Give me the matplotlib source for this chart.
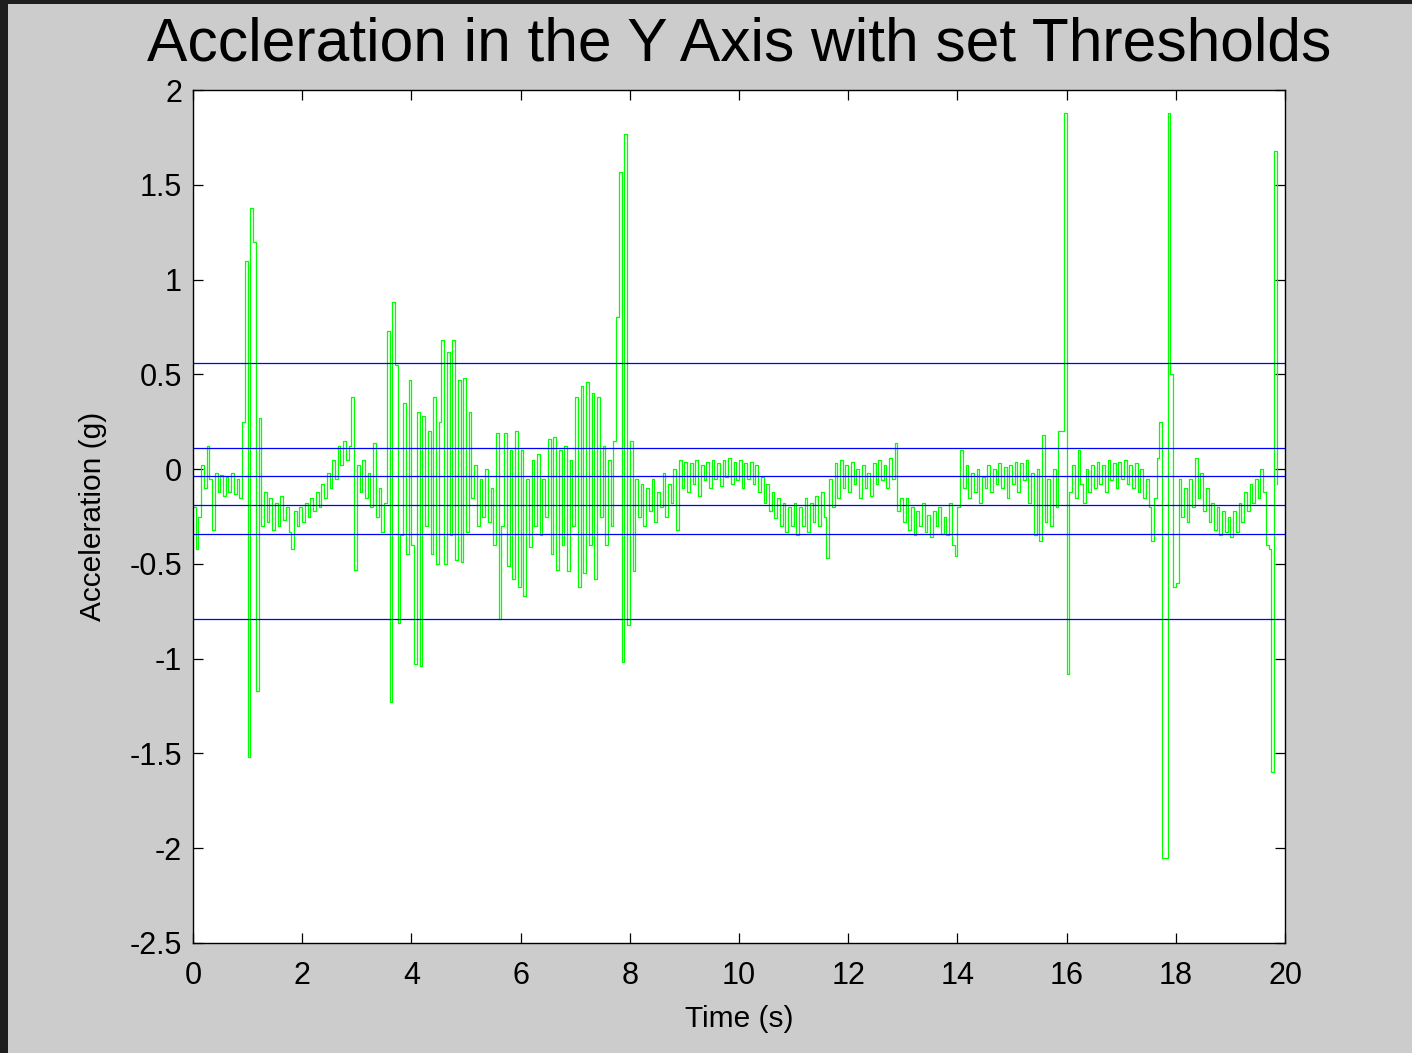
"""
Accleration in the Y Axis with set Thresholds - MATLAB style figure.
"""
import numpy as np
import matplotlib
matplotlib.use('Agg')
import matplotlib.pyplot as plt
from matplotlib.patches import Rectangle

plt.rcParams['font.family'] = ['Liberation Sans', 'DejaVu Sans']
plt.rcParams['axes.unicode_minus'] = False

# ─── Data (20 samples per second) ────────────────────────────────────────────

SAMPLE_DT = 0.05

accel_y = [
    # 0 s
    -0.20, -0.42, -0.25, 0.02, -0.10, 0.12, -0.05, -0.32, -0.02, -0.12,
    -0.03, -0.14, -0.04, -0.12, -0.02, -0.13, -0.05, -0.15, 0.25, 1.10,
    # 1 s
    -1.52, 1.38, 1.20, -1.17, 0.27, -0.30, -0.12, -0.28, -0.15, -0.32,
    -0.18, -0.30, -0.14, -0.27, -0.20, -0.33, -0.42, -0.22, -0.30, -0.20,
    # 2 s
    -0.28, -0.18, -0.25, -0.15, -0.22, -0.12, -0.20, -0.08, -0.15, -0.02,
    -0.10, 0.05, -0.05, 0.12, 0.02, 0.15, 0.05, 0.12, 0.38, -0.53,
    # 3 s
    0.02, -0.12, 0.05, -0.15, -0.02, -0.20, 0.14, -0.25, -0.10, -0.33,
    -0.18, 0.73, -1.23, 0.88, 0.55, -0.81, -0.35, 0.35, -0.45, 0.47,
    # 4 s
    -0.40, -1.03, 0.30, -1.04, 0.28, -0.30, 0.20, -0.45, 0.38, -0.50,
    0.25, 0.68, -0.50, 0.62, -0.35, 0.68, -0.48, 0.47, -0.49, 0.48,
    # 5 s
    -0.33, 0.30, -0.15, 0.02, -0.30, -0.05, -0.25, 0.00, -0.28, -0.10,
    -0.40, 0.19, -0.79, -0.30, 0.19, -0.51, 0.10, -0.58, 0.20, -0.62,
    # 6 s
    0.10, -0.67, -0.05, -0.41, 0.05, -0.30, 0.08, -0.35, -0.05, -0.25,
    0.16, -0.45, 0.17, -0.53, 0.10, -0.40, 0.12, -0.54, 0.05, -0.30,
    # 7 s
    0.38, -0.62, 0.44, -0.55, 0.46, -0.40, 0.40, -0.58, 0.38, -0.25,
    0.12, -0.40, 0.05, -0.30, 0.15, 0.80, 1.57, -1.02, 1.77, -0.82,
    # 8 s
    0.15, -0.54, -0.05, -0.25, -0.08, -0.30, -0.10, -0.22, -0.05, -0.28,
    -0.12, -0.20, -0.02, -0.25, -0.08, -0.18, 0.00, -0.32, 0.05, -0.10,
    # 9 s
    0.04, -0.12, 0.03, -0.08, 0.05, -0.14, 0.02, -0.06, 0.04, -0.10,
    0.05, -0.05, 0.03, -0.09, 0.05, -0.04, 0.06, -0.08, 0.04, -0.06,
    # 10 s
    0.05, -0.10, 0.03, -0.05, 0.04, -0.08, 0.02, -0.12, -0.04, -0.18,
    -0.08, -0.22, -0.12, -0.26, -0.15, -0.30, -0.18, -0.33, -0.20, -0.30,
    # 11 s
    -0.18, -0.35, -0.20, -0.30, -0.15, -0.33, -0.18, -0.28, -0.14, -0.30,
    -0.12, -0.25, -0.47, -0.05, -0.20, 0.03, -0.15, 0.05, -0.10, 0.02,
    # 12 s
    -0.12, 0.04, -0.08, 0.00, -0.15, 0.02, -0.10, -0.02, -0.14, 0.03,
    -0.08, 0.05, -0.06, 0.02, -0.10, 0.06, -0.05, 0.14, -0.22, -0.15,
    # 13 s
    -0.28, -0.15, -0.32, -0.20, -0.35, -0.22, -0.30, -0.18, -0.33, -0.24,
    -0.36, -0.22, -0.30, -0.20, -0.34, -0.25, -0.35, -0.18, -0.40, -0.46,
    # 14 s
    -0.20, 0.10, -0.10, 0.02, -0.15, -0.02, -0.12, 0.00, -0.18, -0.04,
    -0.10, 0.02, -0.12, 0.00, -0.08, 0.03, -0.10, 0.01, -0.15, 0.02,
    # 15 s
    -0.08, 0.04, -0.12, 0.03, -0.06, 0.05, -0.18, -0.02, -0.35, 0.00,
    -0.38, 0.18, -0.28, -0.05, -0.30, 0.00, -0.20, 0.20, 0.20, 1.88,
    # 16 s
    -1.08, -0.12, 0.02, -0.15, 0.10, -0.08, -0.18, 0.00, -0.12, 0.02,
    -0.10, 0.04, -0.08, 0.02, -0.12, 0.05, -0.06, 0.03, -0.10, 0.04,
    # 17 s
    -0.05, 0.05, -0.08, 0.02, -0.10, 0.03, -0.12, 0.00, -0.15, -0.05,
    -0.20, -0.38, -0.15, 0.06, 0.25, -2.05, -2.05, 1.88, 0.50, -0.62,
    # 18 s
    -0.60, -0.05, -0.25, -0.10, -0.28, -0.05, -0.20, 0.06, -0.15, -0.02,
    -0.22, -0.10, -0.28, -0.18, -0.32, -0.20, -0.35, -0.22, -0.33, -0.25,
    # 19 s
    -0.36, -0.22, -0.33, -0.18, -0.28, -0.12, -0.22, -0.08, -0.18, -0.05,
    -0.15, 0.00, -0.12, -0.40, -0.42, -1.60, 1.68, -0.08,
]

thresholds = [0.56, 0.11, -0.035, -0.19, -0.34, -0.79]

x_ticks = [0, 2, 4, 6, 8, 10, 12, 14, 16, 18, 20]
y_ticks = [-2.5, -2, -1.5, -1, -0.5, 0, 0.5, 1, 1.5, 2]
y_tick_labels = ['-2.5', '-2', '-1.5', '-1', '-0.5', '0', '0.5', '1', '1.5', '2']

t = np.arange(len(accel_y)) * SAMPLE_DT

# ─── Figure ──────────────────────────────────────────────────────────────────

fig = plt.figure(figsize=(14.12, 10.53), dpi=100)
fig.patch.set_facecolor('#cccccc')

# dark window frame on the left and top edge
fig.add_artist(Rectangle((0, 0), 8 / 1412, 1, transform=fig.transFigure,
                         facecolor='#1e1e1e', edgecolor='none'))
fig.add_artist(Rectangle((0, 1 - 4 / 1053), 1, 4 / 1053, transform=fig.transFigure,
                         facecolor='#1e1e1e', edgecolor='none'))

ax = fig.add_axes([193 / 1412, 1 - 943 / 1053, (1285 - 193) / 1412, (943 - 90) / 1053])
ax.set_facecolor('white')

ax.plot(t, accel_y, color='#00ff00', linewidth=0.9, drawstyle='steps-post')
for th in thresholds:
    ax.axhline(th, color='#0000ff', linewidth=0.9)

ax.set_xlim(0, 20)
ax.set_ylim(-2.5, 2)
ax.set_xticks(x_ticks)
ax.set_xticklabels([str(v) for v in x_ticks])
ax.set_yticks(y_ticks)
ax.set_yticklabels(y_tick_labels)

ax.tick_params(direction='in', length=7, width=0.9, top=True, right=True,
               labelsize=22, colors='black')
ax.tick_params(axis='x', pad=13)
ax.tick_params(axis='y', pad=8)
for spine in ax.spines.values():
    spine.set_edgecolor('black')
    spine.set_linewidth(1.0)

ax.set_title('Accleration in the Y Axis with set Thresholds', fontsize=43.6, pad=21)
ax.set_xlabel('Time (s)', fontsize=21.5, labelpad=10)
ax.set_ylabel('Acceleration (g)', fontsize=21.5, labelpad=16)

plt.savefig('out.png', dpi=100, facecolor=fig.get_facecolor())
plt.close()
